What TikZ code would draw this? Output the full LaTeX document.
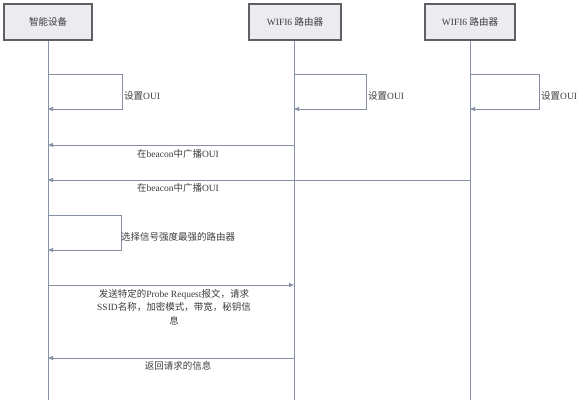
\documentclass[tikz,border=0pt]{standalone}
\usepackage{fontspec}
\setmainfont{Liberation Serif}
\newfontfamily\cjk{Noto Sans CJK SC}
\usetikzlibrary{arrows.meta}
\definecolor{lifec}{RGB}{135,145,165}
\definecolor{boxfill}{RGB}{236,236,240}
\definecolor{boxline}{RGB}{95,95,100}
\definecolor{txtc}{RGB}{60,60,60}
\tikzset{
  actor/.style={draw=boxline, line width=1.1pt, fill=boxfill, minimum height=36pt, inner sep=0pt, font=\fontsize{9.5}{12}\selectfont, text=txtc},
  life/.style={draw=lifec, line width=0.8pt},
  msg/.style={draw=lifec, line width=0.8pt, -{Triangle[length=5pt,width=4pt]}},
  lbl/.style={font=\fontsize{9.5}{13.5}\selectfont, text=txtc, inner sep=0pt},
}
\begin{document}
\begin{tikzpicture}[x=1pt,y=-1pt]
\useasboundingbox (0,0) rectangle (583,400);
% actors
\node[actor, minimum width=88pt] (dev) at (48,22) {{\cjk 智能设备}};
\node[actor, minimum width=92pt] (r1) at (295,22) {WIFI6 {\cjk 路由器}};
\node[actor, minimum width=90pt] (r2) at (470,22) {WIFI6 {\cjk 路由器}};
% lifeline ends
\coordinate (devend) at (48,400);
\coordinate (r1end) at (294,400);
\coordinate (r2end) at (470,400);
\draw[life] (dev.south) -- (devend);
\draw[life] (r1.south -| r1end) -- (r1end);
\draw[life] (r2.south) -- (r2end);
% self loops: set OUI
\coordinate (d1a) at (48,74);  \coordinate (d1b) at (48,109);
\coordinate (a1a) at (294,74); \coordinate (a1b) at (294,109);
\coordinate (b1a) at (470,74); \coordinate (b1b) at (470,109);
\draw[msg] (d1a) -- ++(74,0) |- (d1b);
\draw[msg] (a1a) -- ++(72,0) |- (a1b);
\draw[msg] (b1a) -- ++(69,0) |- (b1b);
\node[lbl, anchor=west] (l1) at (124,96) {{\cjk 设置}OUI};
\node[lbl, anchor=west] (l2) at (368,96) {{\cjk 设置}OUI};
\node[lbl, anchor=west] (l3) at (541,96) {{\cjk 设置}OUI};
% beacons
\coordinate (bc1s) at (294,145); \coordinate (bc1e) at (48,145);
\coordinate (bc2s) at (470,180); \coordinate (bc2e) at (48,180);
\draw[msg] (bc1s) -- (bc1e);
\draw[msg] (bc2s) -- (bc2e);
\node[lbl] (lb1) at (178,154) {{\cjk 在}beacon{\cjk 中广播}OUI};
\node[lbl] (lb2) at (178,188) {{\cjk 在}beacon{\cjk 中广播}OUI};
% select router
\coordinate (d2a) at (48,215); \coordinate (d2b) at (48,250);
\draw[msg] (d2a) -- ++(73,0) |- (d2b);
\node[lbl, anchor=west] (ls) at (121,237) {{\cjk 选择信号强度最强的路由器}};
% probe request
\coordinate (pr1) at (48,285); \coordinate (pr2) at (294,285);
\draw[msg] (pr1) -- (pr2);
\node[lbl, align=center] (lp) at (174,307) {{\cjk 发送特定的}Probe Request{\cjk 报文，请求}\\SSID{\cjk 名称，加密模式，带宽，秘钥信}\\{\cjk 息}};
% response
\coordinate (rs1) at (294,358); \coordinate (rs2) at (48,358);
\draw[msg] (rs1) -- (rs2);
\node[lbl] (lr) at (178,366) {{\cjk 返回请求的信息}};
\end{tikzpicture}
\end{document}
